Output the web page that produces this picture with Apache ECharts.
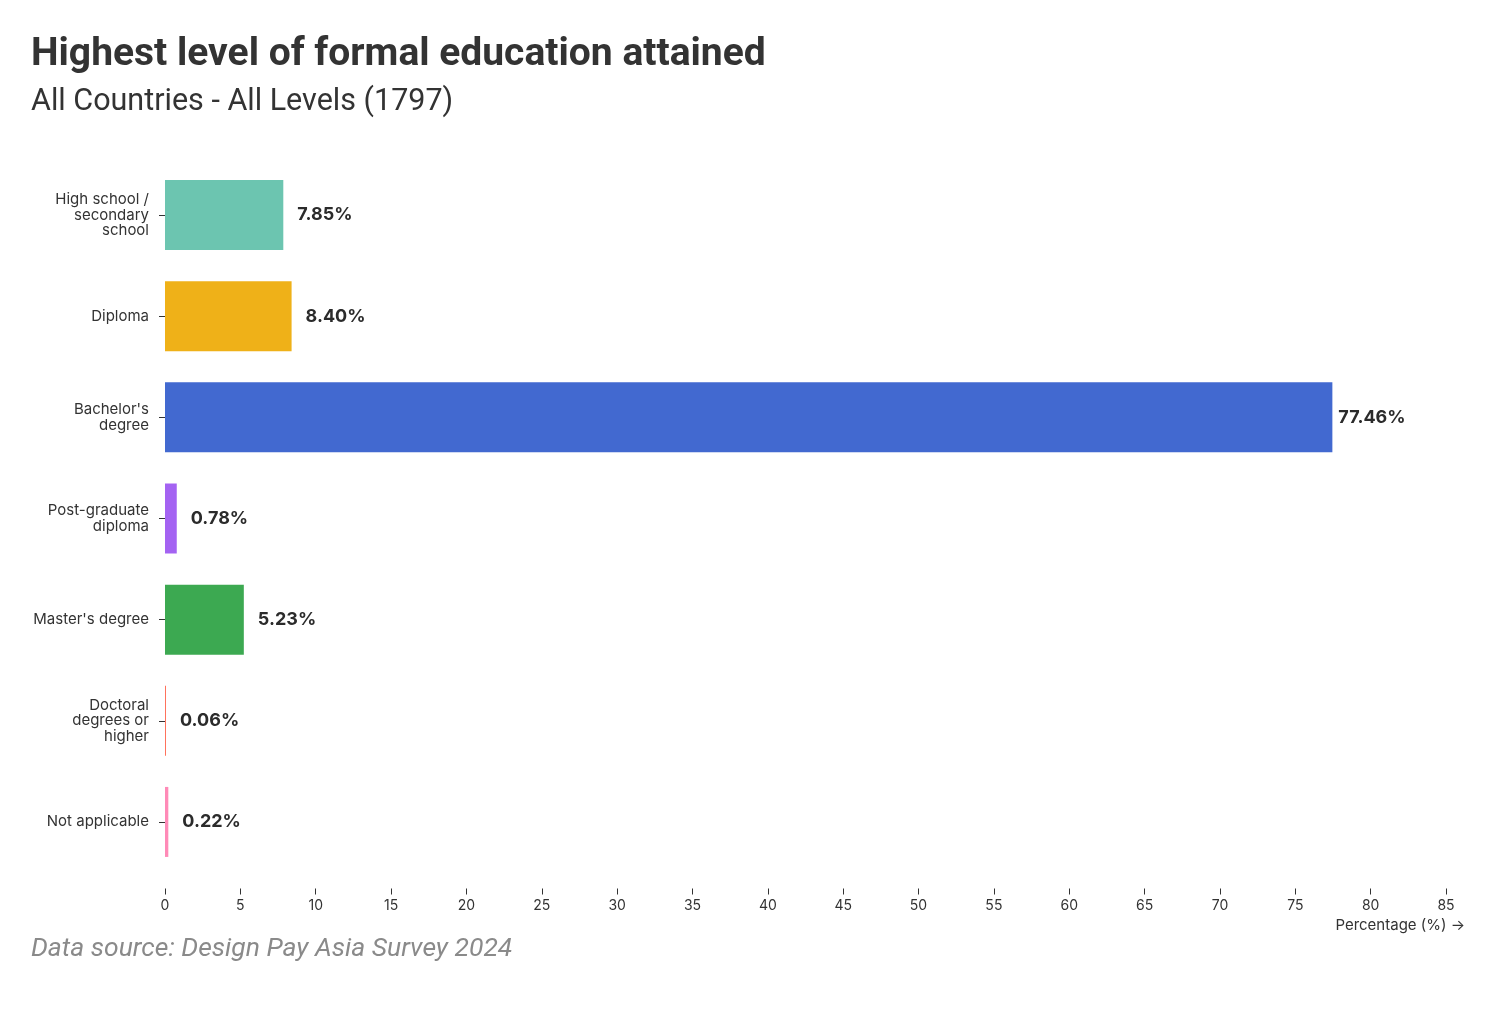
<!DOCTYPE html>
<html>
<head>
<meta charset="utf-8">
<script src="https://cdn.jsdelivr.net/npm/echarts@6/dist/echarts.min.js"></script>
<style>
html,body{margin:0;padding:0;background:#fff;}
#chart{width:1500px;height:1022px;}
</style>
</head>
<body>
<div id="chart"></div>
<script>
const categories = ["High school / secondary school", "Diploma", "Bachelor's degree", "Post-graduate diploma", "Master's degree", "Doctoral degrees or higher", "Not applicable"];
const tickLabels = ["High school /\nsecondary\nschool", "Diploma", "Bachelor's\ndegree", "Post-graduate\ndiploma", "Master's degree", "Doctoral\ndegrees or\nhigher", "Not applicable"];
const values = [7.85, 8.40, 77.46, 0.78, 5.23, 0.06, 0.22];
const colors = ["#6cc5b0", "#efb118", "#4269d0", "#a463f2", "#3ca951", "#ff725c", "#ff8ab7"];
const xTicks = [0, 5, 10, 15, 20, 25, 30, 35, 40, 45, 50, 55, 60, 65, 70, 75, 80, 85];

const chart = echarts.init(document.getElementById('chart'), null, {renderer: 'canvas'});
const UI = 'Inter, "Noto Sans", sans-serif';
const option = {
  backgroundColor: '#ffffff',
  animation: false,
  title: [
    {text: 'Highest level of formal education attained', left: 26, top: 31,
     textStyle: {fontFamily: 'Roboto', fontWeight: 'bold', fontSize: 39, color: '#333333'}},
    {text: 'All Countries - All Levels (1797)', left: 26, top: 82,
     textStyle: {fontFamily: 'Roboto', fontWeight: 'normal', fontSize: 30.5, color: '#333333'}},
    {text: 'Data source: Design Pay Asia Survey 2024', left: 26, top: 931,
     textStyle: {fontFamily: 'Roboto', fontStyle: 'italic', fontWeight: 'normal', fontSize: 26.5, color: '#8a8a8a'}}
  ],
  graphic: [
    {type: 'text', right: 35, top: 918,
     style: {text: 'Percentage (%) →', font: '15px ' + UI, fill: '#333333'}}
  ],
  grid: {left: 165, right: 54, top: 164.5, bottom: 149.5, containLabel: false},
  xAxis: {
    type: 'value', min: 0, max: xTicks[xTicks.length - 1], interval: 5,
    offset: 16,
    axisLine: {show: false},
    axisTick: {show: true, length: 6, lineStyle: {color: '#333333'}},
    splitLine: {show: false},
    axisLabel: {margin: 10, fontFamily: UI, fontSize: 14, color: '#333333'}
  },
  yAxis: {
    type: 'category', inverse: true,
    data: categories,
    axisLine: {show: false},
    axisTick: {show: true, length: 6, alignWithLabel: true, lineStyle: {color: '#333333'}},
    axisLabel: {
      margin: 16, fontFamily: UI, fontSize: 15, color: '#333333', lineHeight: 15.5, align: 'right',
      formatter: function (v) { return tickLabels[categories.indexOf(v)]; }
    }
  },
  series: [{
    type: 'bar',
    barWidth: 70,
    barMinHeight: 1,
    data: values.map(function (v, i) {
      return {
        value: v,
        itemStyle: {color: colors[i]},
        label: v > 70 ? {distance: 6} : {}
      };
    }),
    label: {
      show: true, position: 'right', distance: 14,
      formatter: function (p) { return p.value.toFixed(2) + '%'; },
      fontFamily: UI, fontWeight: 'bold', fontSize: 18, color: '#2b2b2b'
    }
  }]
};
chart.setOption(option);
</script>
</body>
</html>
